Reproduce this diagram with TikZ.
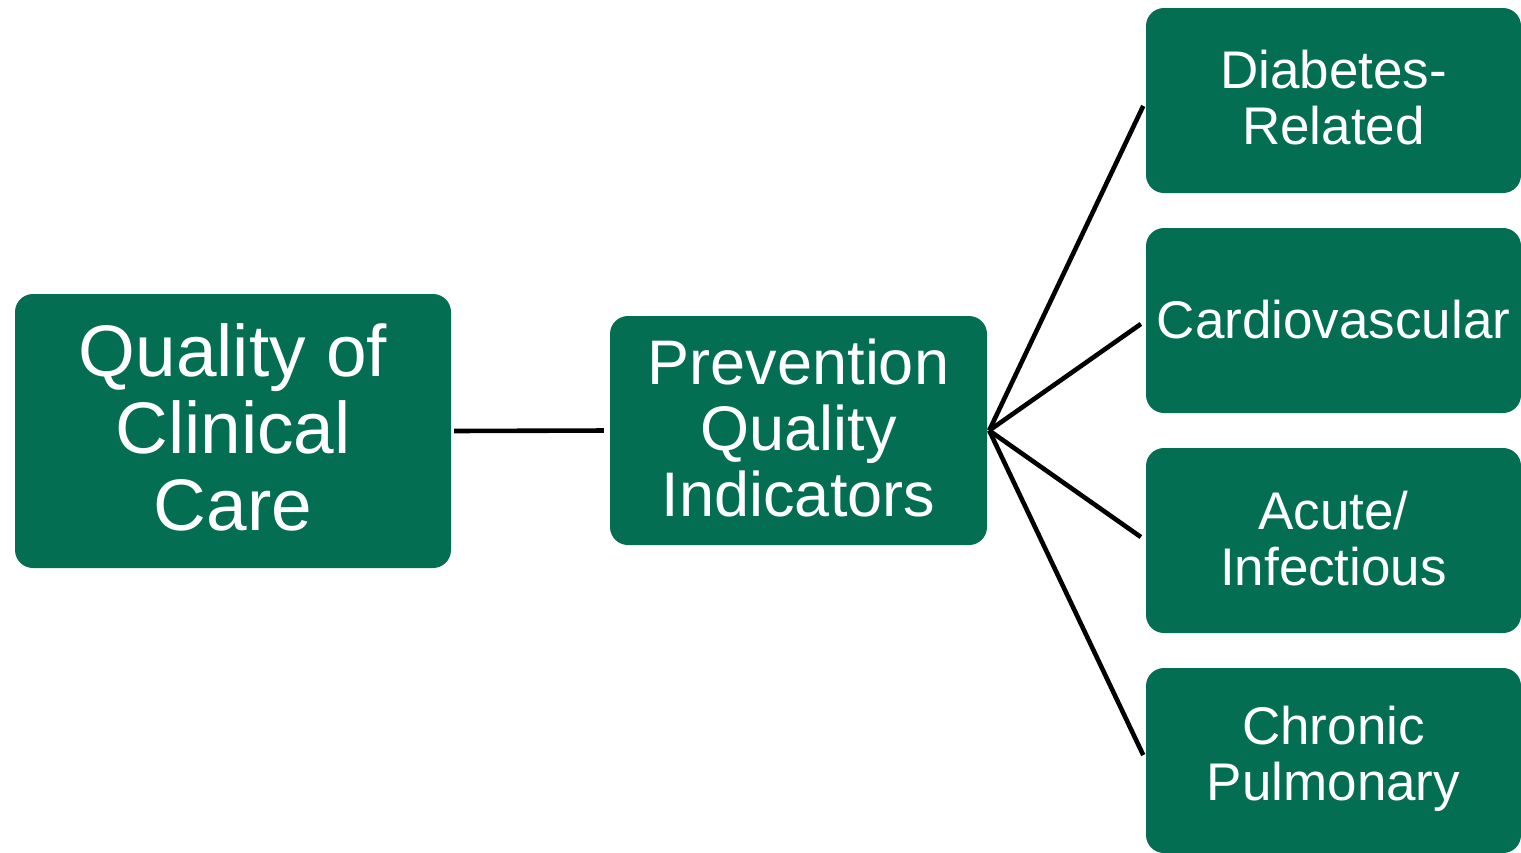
\documentclass[tikz,border=0pt]{standalone}
\usepackage{fontspec}
\setmainfont{Liberation Sans}
\definecolor{boxgreen}{HTML}{046E52}
\begin{document}
\begin{tikzpicture}[x=1pt,y=-1pt,
  gbox/.style={draw=none,fill=boxgreen,rounded corners=18pt,text=white,align=center,inner sep=0pt},
  conn/.style={draw=black,line width=4.6pt}]
\useasboundingbox (0,0) rectangle (1521,852);
\node[gbox,minimum width=436pt,minimum height=274pt] (L) at (233,431) {};
\node[gbox,minimum width=377pt,minimum height=229pt] (M) at (798.5,430.5) {};
\node[gbox,minimum width=375pt,minimum height=185pt] (R1) at (1333.5,100.5) {};
\node[gbox,minimum width=375pt,minimum height=185pt] (R2) at (1333.5,320.5) {};
\node[gbox,minimum width=375pt,minimum height=185pt] (R3) at (1333.5,540.5) {};
\node[gbox,minimum width=375pt,minimum height=185pt] (R4) at (1333.5,760.5) {};
\tikzset{lbl/.style={text=white,align=center,inner sep=0pt},
  rfont/.style={font=\fontsize{53}{56}\selectfont}}
\node[lbl,font=\fontsize{73}{77}\selectfont,yshift=4pt] (Lt) at (L.center) {Quality of\\Clinical\\Care};
\node[lbl,font=\fontsize{63}{66}\selectfont,yshift=3pt] (Mt) at (M.center) {Prevention\\Quality\\Indicators};
\node[lbl,rfont,yshift=3pt] (R1t) at (R1.center) {Diabetes-\\Related};
\node[lbl,rfont,yshift=1pt] (R2t) at (R2.center) {Cardiovascular};
\node[lbl,rfont,yshift=2pt] (R3t) at (R3.center) {Acute/\\Infectious};
\node[lbl,rfont,yshift=2pt] (R4t) at (R4.center) {Chronic\\Pulmonary};
\coordinate (hub) at ([xshift=2pt]M.east);
\draw[conn,shorten <=3pt,shorten >=6pt] (L.east) -- (M.west);
\draw[conn,shorten >=6pt] (hub) -- (R1.west);
\draw[conn,shorten >=6pt] (hub) -- (R2.west);
\draw[conn,shorten >=6pt] (hub) -- (R3.west);
\draw[conn,shorten >=6pt] (hub) -- (R4.west);
\end{tikzpicture}
\end{document}
